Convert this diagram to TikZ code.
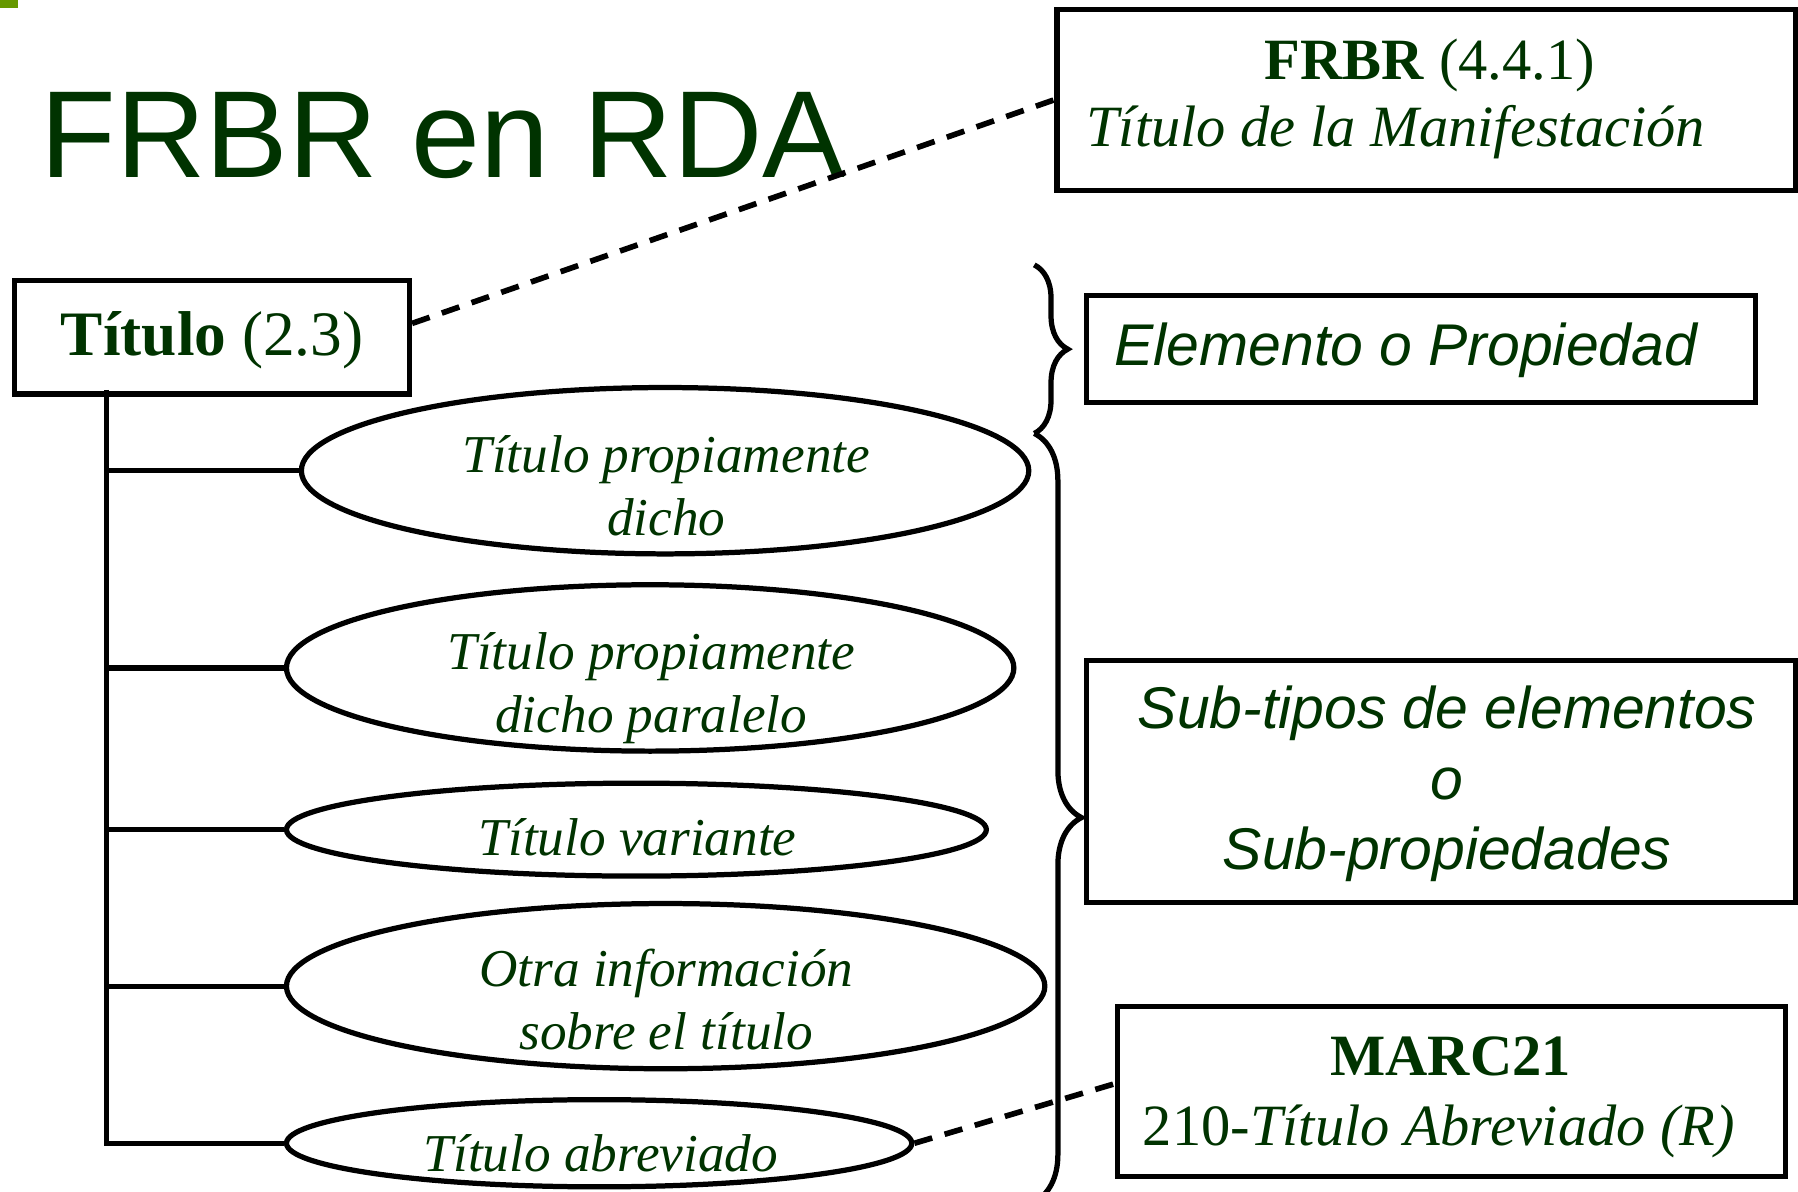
\documentclass[tikz,border=0pt]{standalone}
\usepackage{fontspec}
\setmainfont{Liberation Serif}
\setsansfont{Liberation Sans}
\usetikzlibrary{shapes.geometric,decorations.pathreplacing}
\definecolor{dkgreen}{RGB}{0,51,0}
\definecolor{barcolor}{RGB}{102,153,0}
\begin{document}
\begin{tikzpicture}[x=0.01cm, y=-0.01cm, line width=1.3pt]
	\tikzstyle{box} = [draw, rectangle, inner sep=0pt];
	\tikzstyle{oval} = [draw, ellipse, inner sep=0pt];
	\tikzstyle{txt} = [text=dkgreen, inner sep=0pt, anchor=base, align=center];
	\tikzstyle{rm} = [txt, font={\fontsize{14.5}{17.1}\selectfont}];
	\tikzstyle{ov} = [txt, font={\itshape\fontsize{13.2}{15.6}\selectfont}];
	\tikzstyle{sf} = [txt, font={\sffamily\itshape\fontsize{14.6}{17.4}\selectfont}];
	\tikzstyle{link} = [line width=1.4pt, dash pattern=on 4.6pt off 3.2pt];
	\tikzstyle{brc} = [decorate, decoration={brace, amplitude=8.3pt}];
	\tikzstyle{bigbrc} = [decorate, decoration={brace, amplitude=11.7pt}];

	\useasboundingbox (0,0) rectangle (1568,1039);
	\clip (0,0) rectangle (1568,1039);
	\fill[barcolor] (0,0) rectangle (16,7);

	\node[txt, anchor=base west, font={\sffamily\fontsize{30.7}{36}\selectfont}] (head) at (33,155) {FRBR en RDA};

	\node[box, minimum width=6.44cm, minimum height=1.58cm] (frbr) at (1244,87) {};
	\node[box, minimum width=3.44cm, minimum height=0.99cm] (titulo) at (185,294) {};
	\node[box, minimum width=5.83cm, minimum height=0.93cm] (elem) at (1239.5,304.5) {};
	\node[box, minimum width=6.18cm, minimum height=2.11cm] (sub) at (1257,681.5) {};
	\node[box, minimum width=5.82cm, minimum height=1.48cm] (marc) at (1266,952) {};

	\node[rm] (frbra) at (1247,69) {\textbf{FRBR} (4.4.1)};
	\node[rm, anchor=base west] (frbrb) at (945,128) {\itshape Título de la Manifestación};
	\node[txt, font={\fontsize{15.7}{18}\selectfont}] (titulot) at (185,310) {\textbf{Título} (2.3)};
	\node[sf] (elemt) at (1226,319) {Elemento o Propiedad};
	\node[sf] (subt) at (1262,758) {Sub-tipos de elementos\\o\\Sub-propiedades};
	\node[rm] (marca) at (1265,938) {\textbf{MARC21}};
	\node[rm] (marcb) at (1255,999) {210-\textit{Título Abreviado (R)}};

	\node[oval, minimum width=6.34cm, minimum height=1.45cm] (e1) at (580,410.5) {};
	\node[oval, minimum width=6.34cm, minimum height=1.45cm] (e2) at (567,582.5) {};
	\node[oval, minimum width=6.10cm, minimum height=0.81cm] (e3) at (555,723.5) {};
	\node[oval, minimum width=6.61cm, minimum height=1.44cm] (e4) at (580.5,860) {};
	\node[oval, minimum width=5.45cm, minimum height=0.76cm] (e5) at (522.5,997) {};

	\node[ov] (t1) at (581,467) {Título propiamente\\dicho};
	\node[ov] (t2) at (568,639) {Título propiamente\\dicho paralelo};
	\node[ov] (t3) at (556,746) {Título variante};
	\node[ov] (t4) at (581,915) {Otra información\\sobre el título};
	\node[ov] (t5) at (524,1022) {Título abreviado};

	\coordinate (root) at (93,340);
	\draw (root) |- (e5.west);
	\foreach \e in {e1,e2,e3,e4}
		\draw (root |- \e.west) -- (\e.west);

	\draw[link] ([yshift=3.4pt]titulo.east) -- (frbr.west);
	\draw[link] (e5.east) -- ([yshift=2pt]marc.west);

	\coordinate (b1) at (902,231);
	\coordinate (b2) at (902,378);
	\coordinate (b3) at (902,1048);
	\draw[brc] (b1) -- (b2);
	\draw[bigbrc] (b2) -- (b3);
\end{tikzpicture}
\end{document}
